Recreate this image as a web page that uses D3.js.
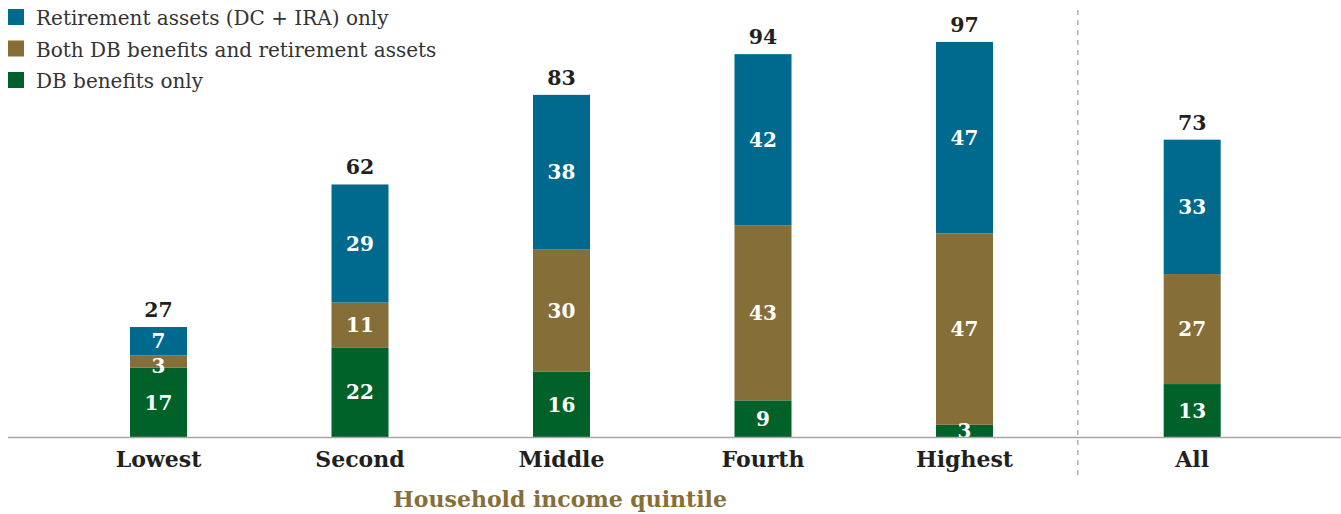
<!DOCTYPE html>
<html>
<head>
<meta charset="utf-8">
<script src="https://cdn.jsdelivr.net/npm/d3@7"></script>
<style>
  html, body { margin: 0; padding: 0; background: #fff; }
  svg { display: block; }
  text { font-family: "DejaVu Serif", "Liberation Serif", serif; }
</style>
</head>
<body>
<svg id="chart" width="1341" height="514"></svg>
<script>
// Share of households with retirement resources, by income quintile (percent)
const categories = ["Lowest", "Second", "Middle", "Fourth", "Highest", "All"];
const dbOnly      = [17, 22, 16, 9, 3, 13];
const bothDbRet   = [3, 11, 30, 43, 47, 27];
const retOnly     = [7, 29, 38, 42, 47, 33];
const totals      = [27, 62, 83, 94, 97, 73];

const seriesNames = [
  "DB benefits only",
  "Both DB benefits and retirement assets",
  "Retirement assets (DC + IRA) only"
];
const seriesColors = ["#006229", "#866e39", "#006a8e"];
const legendOrder = [2, 1, 0];
const axisTitle = "Household income quintile";

const svg = d3.select("#chart");
const W = 1341;
const baseY = 437;

// vertical value scale
const y = d3.scaleLinear().domain([0, 100]).range([baseY, baseY - 407.3]);

// horizontal: five quintile slots, then the "All" bar set apart
const slot = categories.map((c, i) => i < 5 ? i : i + 0.13);
const xIdx = d3.scaleLinear().domain([0, 4]).range([158.5, 964.5]);
const x = c => xIdx(slot[categories.indexOf(c)]);
const barW = 57;

const rows = categories.map((c, i) => ({
  cat: c, s0: dbOnly[i], s1: bothDbRet[i], s2: retOnly[i], total: totals[i]
}));
const stack = d3.stack().keys(["s0", "s1", "s2"])(rows);

// label centre: thin middle segments push their label down a little
const labelY = d => {
  const mid = (y(d[0]) + y(d[1])) / 2;
  const thin = y(d[0]) - y(d[1]) < 20;
  return thin && d[0] > 0 ? mid + 4 : mid;
};

// stacked segments, with their value labels drawn above all rects
const barsG = svg.append("g");
const labelsG = svg.append("g");
stack.forEach((layer, k) => {
  barsG.append("g").selectAll("rect").data(layer).join("rect")
    .attr("x", d => x(d.data.cat) - barW / 2)
    .attr("width", barW)
    .attr("y", d => y(d[1]))
    .attr("height", d => y(d[0]) - y(d[1]))
    .attr("fill", seriesColors[k]);
  labelsG.append("g").selectAll("text").data(layer).join("text")
    .attr("x", d => x(d.data.cat))
    .attr("y", labelY)
    .attr("dy", "0.36em")
    .attr("text-anchor", "middle")
    .attr("fill", "#fff")
    .attr("font-weight", "bold")
    .attr("font-size", 20)
    .text(d => d.data[layer.key]);
});

// totals above bars
svg.append("g").selectAll("text").data(stack[2]).join("text")
  .attr("x", d => x(d.data.cat))
  .attr("y", d => y(d[1]) - 10)
  .attr("text-anchor", "middle")
  .attr("fill", "#231f20")
  .attr("font-weight", "bold")
  .attr("font-size", 20.5)
  .text(d => d.data.total);

// baseline
svg.append("line")
  .attr("x1", 8).attr("x2", W)
  .attr("y1", baseY + 0.5).attr("y2", baseY + 0.5)
  .attr("stroke", "#a7a7a9").attr("stroke-width", 1.5);

// separator between quintiles and "All"
const sepX = (x("Highest") + x("All")) / 2 - 0.5;
svg.append("line")
  .attr("x1", sepX).attr("x2", sepX)
  .attr("y1", 10).attr("y2", 476)
  .attr("stroke", "#9d9fa2").attr("stroke-width", 1.2)
  .attr("stroke-dasharray", "5,5");

// category labels
svg.append("g").selectAll("text").data(categories).join("text")
  .attr("x", d => x(d))
  .attr("y", 467)
  .attr("text-anchor", "middle")
  .attr("fill", "#231f20")
  .attr("font-weight", "bold")
  .attr("font-size", 22)
  .text(d => d);

// axis title
svg.append("text")
  .attr("x", 560).attr("y", 507)
  .attr("text-anchor", "middle")
  .attr("fill", "#866e39")
  .attr("font-weight", "bold")
  .attr("font-size", 22)
  .text(axisTitle);

// legend
const lg = svg.append("g");
legendOrder.forEach((k, i) => {
  lg.append("rect")
    .attr("x", 8).attr("y", 9 + i * 31.5)
    .attr("width", 16).attr("height", 16)
    .attr("fill", seriesColors[k]);
  lg.append("text")
    .attr("x", 36).attr("y", 25 + i * 31.5)
    .attr("fill", "#333")
    .attr("font-size", 20)
    .text(seriesNames[k]);
});
</script>
</body>
</html>
